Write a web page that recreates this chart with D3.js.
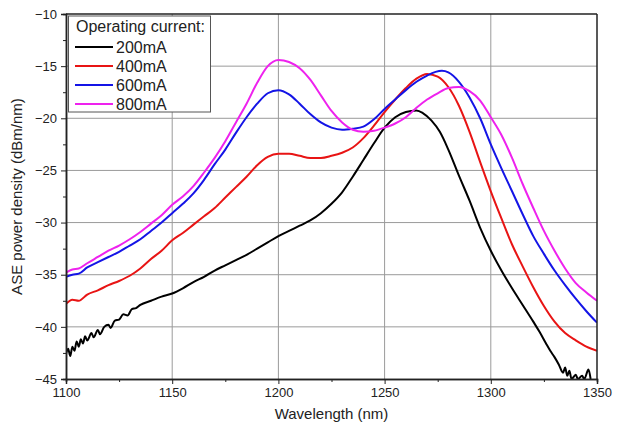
<!DOCTYPE html>
<html>
<head>
<meta charset="utf-8">
<script src="https://cdn.jsdelivr.net/npm/d3@7"></script>
<style>
  body { margin: 0; background: #fff; }
</style>
</head>
<body>
<div id="chart"></div>
<script>

// wavelength (nm), ASE power density (dBm/nm)
const curve200 = [
  [1100, -42.6], [1101, -42.1], [1102, -42.8], [1103, -41.9], [1104, -42.3],
  [1105, -41.4], [1106, -41.9], [1107, -41.2], [1108, -41.6], [1109, -40.9],
  [1110, -41.3], [1112, -40.6], [1113, -41.0], [1115, -40.3], [1116, -40.7],
  [1118, -40.0], [1120, -39.8], [1121, -40.1], [1123, -39.4], [1125, -39.3],
  [1127, -38.8], [1129, -38.9], [1131, -38.3], [1133, -38.2], [1135, -37.9],
  [1140, -37.5], [1145, -37.1], [1150, -36.8], [1155, -36.3], [1160, -35.7],
  [1165, -35.2], [1170, -34.6], [1175, -34.1], [1180, -33.6], [1185, -33.1],
  [1190, -32.5], [1195, -31.9], [1200, -31.3], [1205, -30.8], [1210, -30.3],
  [1215, -29.8], [1220, -29.1], [1225, -28.2], [1230, -27.1], [1235, -25.6],
  [1240, -24.0], [1245, -22.4], [1250, -20.9], [1255, -19.9], [1260, -19.4],
  [1265, -19.25], [1268, -19.5], [1272, -20.2], [1276, -21.3], [1280, -23.0],
  [1285, -25.5], [1290, -27.9], [1295, -30.5], [1300, -32.7], [1305, -34.6],
  [1310, -36.3], [1315, -37.9], [1320, -39.5], [1323, -40.5], [1326, -41.6],
  [1328, -42.3], [1330, -42.9], [1332, -43.6], [1334, -44.4], [1335, -43.9],
  [1336, -44.7], [1337, -44.2], [1338, -45.0], [1340, -44.6], [1341, -45.0],
  [1343, -44.7], [1344, -45.0], [1346, -44.1], [1347, -45.0]
];

const curve400 = [
  [1100, -37.8], [1103, -37.4], [1106, -37.5], [1110, -36.9], [1115, -36.5],
  [1120, -36.0], [1125, -35.6], [1130, -35.1], [1135, -34.4], [1140, -33.5],
  [1145, -32.7], [1150, -31.7], [1155, -31.0], [1160, -30.2], [1165, -29.4],
  [1170, -28.6], [1175, -27.6], [1180, -26.6], [1185, -25.6], [1190, -24.5],
  [1195, -23.7], [1200, -23.4], [1205, -23.4], [1210, -23.6], [1215, -23.8],
  [1220, -23.8], [1225, -23.6], [1230, -23.3], [1235, -22.8], [1240, -21.9],
  [1245, -20.7], [1250, -19.4], [1255, -18.2], [1260, -17.1], [1265, -16.2],
  [1270, -15.75], [1275, -16.0], [1280, -17.0], [1285, -18.8], [1290, -21.3],
  [1295, -24.2], [1300, -27.0], [1305, -29.6], [1310, -32.1], [1315, -34.2],
  [1320, -36.2], [1325, -38.0], [1330, -39.5], [1335, -40.6], [1340, -41.3],
  [1345, -41.9], [1350, -42.3]
];

const curve600 = [
  [1100, -35.2], [1103, -35.0], [1106, -34.9], [1110, -34.3], [1115, -33.8],
  [1120, -33.3], [1125, -32.8], [1130, -32.2], [1135, -31.6], [1140, -30.8],
  [1145, -30.0], [1150, -29.1], [1155, -28.2], [1160, -27.2], [1165, -25.9],
  [1170, -24.4], [1175, -23.0], [1180, -21.4], [1185, -19.9], [1190, -18.6],
  [1195, -17.6], [1200, -17.3], [1205, -17.7], [1210, -18.6], [1215, -19.6],
  [1220, -20.4], [1225, -20.9], [1230, -21.1], [1235, -21.0], [1240, -20.8],
  [1245, -20.1], [1250, -19.1], [1255, -18.2], [1260, -17.3], [1265, -16.5],
  [1270, -15.9], [1274, -15.55], [1277, -15.45], [1280, -15.6], [1285, -16.5],
  [1290, -18.0], [1295, -20.0], [1300, -22.5], [1305, -24.8], [1310, -27.0],
  [1315, -29.2], [1320, -31.3], [1325, -33.0], [1330, -34.6], [1335, -36.0],
  [1340, -37.3], [1345, -38.5], [1350, -39.6]
];

const curve800 = [
  [1100, -34.8], [1103, -34.5], [1106, -34.4], [1110, -33.9], [1115, -33.3],
  [1120, -32.7], [1125, -32.2], [1130, -31.6], [1135, -30.9], [1140, -30.1],
  [1145, -29.3], [1150, -28.3], [1155, -27.5], [1160, -26.5], [1165, -25.2],
  [1170, -23.8], [1175, -22.2], [1180, -20.4], [1185, -18.6], [1190, -16.6],
  [1195, -15.0], [1200, -14.4], [1205, -14.6], [1210, -15.2], [1215, -16.3],
  [1220, -17.8], [1225, -19.3], [1230, -20.4], [1235, -21.1], [1240, -21.3],
  [1245, -21.2], [1250, -20.9], [1255, -20.5], [1260, -19.9], [1265, -19.0],
  [1270, -18.2], [1275, -17.6], [1280, -17.1], [1285, -17.0], [1290, -17.4],
  [1295, -18.3], [1300, -19.9], [1305, -21.6], [1310, -23.8], [1315, -26.3],
  [1320, -28.6], [1325, -30.8], [1330, -32.7], [1335, -34.4], [1340, -35.8],
  [1345, -36.7], [1350, -37.5]
];

const seriesNames = ['200mA', '400mA', '600mA', '800mA'];
const seriesData = [curve200, curve400, curve600, curve800];
const seriesColors = ['#000000', '#e81414', '#1414e6', '#ee22ee'];

const xTicks = [1100, 1150, 1200, 1250, 1300, 1350];
const yTicks = [-45, -40, -35, -30, -25, -20, -15, -10];

const width = 619;
const height = 433;
const margin = {top: 14, right: 22, bottom: 54, left: 66};

let svg = d3.select('#chart').append('svg')
  .attr('width', width)
  .attr('height', height)
  .style('font-family', 'Liberation Sans, Arial, sans-serif');

let x = d3.scaleLinear().domain([1100, 1350]).range([margin.left, width - margin.right]);
let y = d3.scaleLinear().domain([-45, -10]).range([height - margin.bottom, margin.top]);

// grid
svg.append('g').selectAll('line').data(xTicks.slice(1, -1)).join('line')
  .attr('x1', d => x(d)).attr('x2', d => x(d))
  .attr('y1', y(-45)).attr('y2', y(-10))
  .attr('stroke', '#9a9a9a').attr('stroke-width', 1);
svg.append('g').selectAll('line').data(yTicks.slice(1, -1)).join('line')
  .attr('x1', x(1100)).attr('x2', x(1350))
  .attr('y1', d => y(d)).attr('y2', d => y(d))
  .attr('stroke', '#9a9a9a').attr('stroke-width', 1);

// clip for the curves
svg.append('clipPath').attr('id', 'plot')
  .append('rect')
  .attr('x', x(1100)).attr('y', y(-10))
  .attr('width', x(1350) - x(1100)).attr('height', y(-45) - y(-10));

let line = d3.line()
  .x(d => x(d[0]))
  .y(d => y(d[1]))
  .curve(d3.curveMonotoneX);

for (let i = 0; i < seriesData.length; i++) {
  svg.append('path')
    .attr('d', line(seriesData[i]))
    .attr('fill', 'none')
    .attr('stroke', seriesColors[i])
    .attr('stroke-width', 2)
    .attr('stroke-linejoin', 'round')
    .attr('clip-path', 'url(#plot)');
}

// axes: major ticks with labels, minor ticks between
let xAxis = d3.axisBottom(x).tickValues(xTicks).tickSize(5).tickPadding(4).tickFormat(d3.format('d'));
let xMinor = d3.axisBottom(x).tickValues([1125, 1175, 1225, 1275, 1325]).tickSize(3).tickFormat('');
let yAxis = d3.axisLeft(y).tickValues(yTicks).tickSize(5).tickPadding(4).tickFormat(d3.format('d'));
let yMinor = d3.axisLeft(y).tickValues([-42.5, -37.5, -32.5, -27.5, -22.5, -17.5, -12.5]).tickSize(3).tickFormat('');

function styleAxis(g) {
  g.select('.domain').attr('stroke', '#222').attr('stroke-width', 1.5);
  g.selectAll('.tick line').attr('stroke', '#222');
  g.selectAll('.tick text').attr('fill', '#222').attr('font-size', 13);
}

svg.append('g').attr('transform', `translate(0,${y(-45)})`).call(xAxis).call(styleAxis);
svg.append('g').attr('transform', `translate(0,${y(-45)})`).call(xMinor).call(styleAxis);
svg.append('g').attr('transform', `translate(${x(1100)},0)`).call(yAxis).call(styleAxis);
svg.append('g').attr('transform', `translate(${x(1100)},0)`).call(yMinor).call(styleAxis);

// top and right frame
svg.append('line')
  .attr('x1', x(1100)).attr('x2', x(1350)).attr('y1', y(-10)).attr('y2', y(-10))
  .attr('stroke', '#222').attr('stroke-width', 1.5);
svg.append('line')
  .attr('x1', x(1350)).attr('x2', x(1350)).attr('y1', y(-10)).attr('y2', y(-45))
  .attr('stroke', '#222').attr('stroke-width', 1.5);

// axis titles
svg.append('text')
  .text('Wavelength (nm)')
  .attr('x', (x(1100) + x(1350)) / 2)
  .attr('y', 419)
  .attr('text-anchor', 'middle')
  .attr('font-size', 15)
  .attr('fill', '#222');

svg.append('text')
  .text('ASE power density (dBm/nm)')
  .attr('transform', `translate(22,${(y(-10) + y(-45)) / 2}) rotate(-90)`)
  .attr('text-anchor', 'middle')
  .attr('font-size', 15)
  .attr('fill', '#222');

// legend
let legend = svg.append('g');
legend.append('rect')
  .attr('x', 68.5).attr('y', 16)
  .attr('width', 142).attr('height', 96)
  .attr('fill', '#fff')
  .attr('stroke', '#555')
  .attr('stroke-width', 1);
legend.append('text')
  .text('Operating current:')
  .attr('x', 76).attr('y', 32)
  .attr('font-size', 16)
  .attr('fill', '#222');
for (let i = 0; i < seriesNames.length; i++) {
  let rowY = 47 + i * 19;
  legend.append('line')
    .attr('x1', 75).attr('x2', 113)
    .attr('y1', rowY).attr('y2', rowY)
    .attr('stroke', seriesColors[i])
    .attr('stroke-width', 2);
  legend.append('text')
    .text(seriesNames[i])
    .attr('x', 116).attr('y', rowY + 6)
    .attr('font-size', 16)
    .attr('fill', '#222');
}
</script>
</body>
</html>
